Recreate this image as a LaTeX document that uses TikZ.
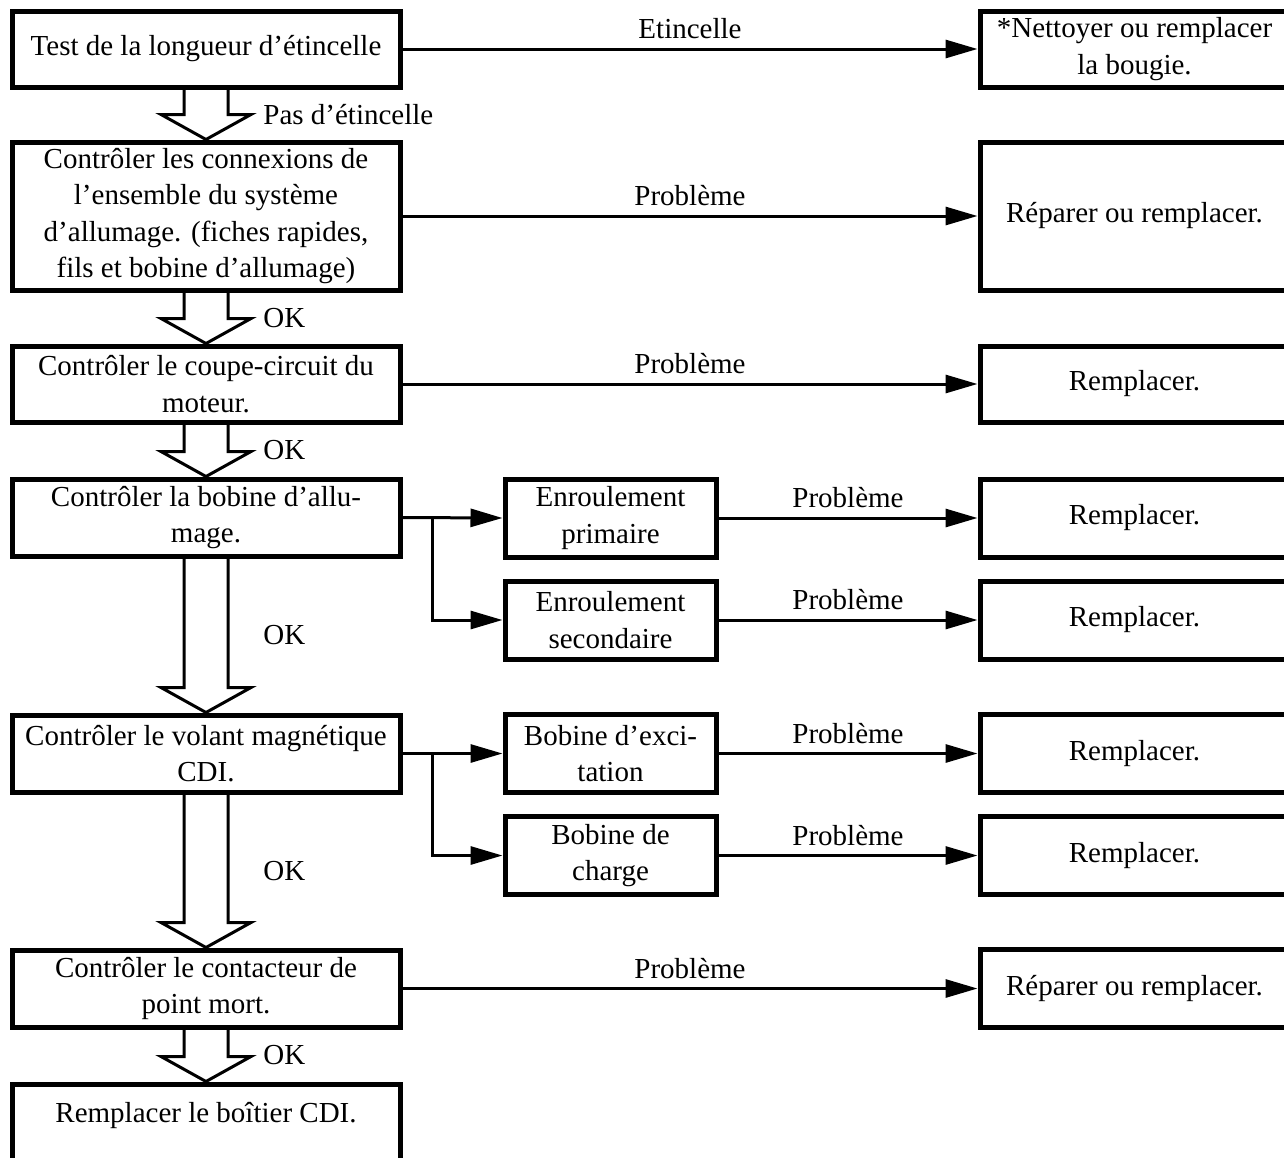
\documentclass[tikz,border=0pt]{standalone}
\usepackage{fontspec}
\setmainfont{Liberation Serif}
\usetikzlibrary{arrows.meta, positioning, calc}

% hollow "OK" arrow between two boxes, with its label
\newcommand{\okarrow}[4]{%
  \draw[hollow] ($(#1.south)+(-22,0)$) -- ($(#2.north)+(-22,-25)$) -- ($(#2.north)+(-45,-25)$)
    -- (#2.north) -- ($(#2.north)+(45,-25)$) -- ($(#2.north)+(22,-25)$) -- ($(#1.south)+(22,0)$);
  \node[anchor=west, inner sep=0pt] (#3) at ($(#1.south)!0.5!(#2.north)+(57,0)$) {#4};}

\begin{document}
\begin{tikzpicture}[x=0.5pt, y=-0.5pt,
    every node/.style={font=\fontsize{14.5pt}{18.3pt}\selectfont},
    box/.style={draw, line width=2.5pt, align=center, inner sep=0pt},
    leftbox/.style={box, minimum width=194pt},
    midbox/.style={box, minimum width=105.5pt, minimum height=39pt},
    rightbox/.style={box, minimum width=154.5pt},
    flow/.style={line width=1.5pt, -{Triangle[length=16pt, width=9pt]}},
    hollow/.style={line width=1.5pt, line join=miter},
    lbl/.style={above, inner sep=5pt, outer sep=0pt}]
  \useasboundingbox (0,0) rectangle (1284,1157);
  \clip (0,0) rectangle (1284,1157);

  % main column
  \node[leftbox, minimum height=38pt] (test) at (206,49) {Test de la longueur d’étincelle};
  \node[leftbox, minimum height=74pt] (conn) at (206,216) {Contrôler les connexions de\\l’ensemble du système\\d’allumage. (fiches rapides,\\fils et bobine d’allumage)};
  \node[leftbox, minimum height=38pt] (coupe) at (206,384) {Contrôler le coupe-circuit du\\moteur.};
  \node[leftbox, minimum height=38.5pt] (bob) at (206,517.5) {Contrôler la bobine d’allu-\\mage.};
  \node[leftbox, minimum height=38.5pt] (vol) at (206,753.5) {Contrôler le volant magnétique\\CDI.};
  \node[leftbox, minimum height=38.5pt] (pm) at (206,988.5) {Contrôler le contacteur de\\point mort.};
  \node[leftbox, minimum height=38pt, text depth=9.5pt] (cdi) at (206,1122) {Remplacer le boîtier CDI.};

  % sub-checks
  \node[midbox] (prim) at (610.5,518) {Enroulement\\primaire};
  \node[midbox] (sec) at (610.5,620) {Enroulement\\secondaire};
  \node[midbox] (exc) at (610.5,753.5) {Bobine d’exci-\\tation};
  \node[midbox] (chg) at (610.5,855.5) {Bobine de\\charge};

  % remedies
  \node[rightbox, minimum height=38pt] (r1) at (1134.5,49) {*Nettoyer ou remplacer\\la bougie.};
  \node[rightbox, minimum height=74pt] (r2) at (1134.5,216) {Réparer ou remplacer.};
  \node[rightbox, minimum height=38pt] (r3) at (1134.5,384) {Remplacer.};
  \node[rightbox, minimum height=39pt] (r4) at (1134.5,518) {Remplacer.};
  \node[rightbox, minimum height=39pt] (r5) at (1134.5,620) {Remplacer.};
  \node[rightbox, minimum height=39pt] (r6) at (1134.5,753.5) {Remplacer.};
  \node[rightbox, minimum height=39pt] (r7) at (1134.5,855.5) {Remplacer.};
  \node[rightbox, minimum height=39pt] (r8) at (1134.5,988.5) {Réparer ou remplacer.};

  % hollow arrows down the main column
  \okarrow{test}{conn}{ok1}{Pas d’étincelle}
  \okarrow{conn}{coupe}{ok2}{OK}
  \okarrow{coupe}{bob}{ok3}{OK}
  \okarrow{bob}{vol}{ok4}{OK}
  \okarrow{vol}{pm}{ok5}{OK}
  \okarrow{pm}{cdi}{ok6}{OK}

  % fault arrows
  \draw[flow] (test.east) -- node[lbl] (e1) {Etincelle} (r1.west);
  \draw[flow] (conn.east) -- node[lbl] (e2) {Problème} (r2.west);
  \draw[flow] (coupe.east) -- node[lbl] (e3) {Problème} (r3.west);
  \draw[flow] (pm.east) -- node[lbl] (e8) {Problème} (r8.west);

  % branches
  \coordinate (j1) at ($(bob.east)+(30,0)$);
  \coordinate (j2) at ($(vol.east)+(30,0)$);
  \draw[flow] (bob.east) -- (prim.west);
  \draw[flow] (j1) |- (sec.west);
  \draw[flow] (vol.east) -- (exc.west);
  \draw[flow] (j2) |- (chg.west);
  \foreach \a/\b/\n in {prim/r4/e4, sec/r5/e5, exc/r6/e6, chg/r7/e7}{
    \draw[flow] (\a.east) -- node[lbl] (\n) {Problème} (\b.west);
  }
\end{tikzpicture}
\end{document}
